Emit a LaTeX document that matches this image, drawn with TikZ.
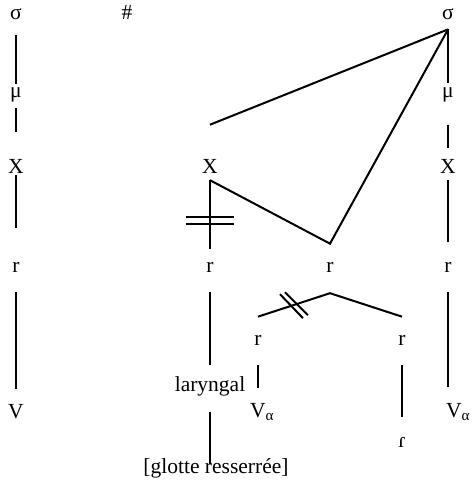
\documentclass[tikz,border=0pt]{standalone}
\usepackage{fontspec}
\setmainfont{Liberation Serif}
\usetikzlibrary{calc}

\begin{document}
\begin{tikzpicture}[
    x=1pt,y=-1pt,
    seg/.style={font=\fontsize{21.5}{26}\selectfont,inner sep=0pt,anchor=base},
    ln/.style={line width=2pt}
]
\useasboundingbox (0,0) rectangle (473,484);
% left column
\node[seg] (sL) at (16,20) {σ};
\node[seg] (muL) at (16,98) {μ};
\node[seg] (xL) at (16,173) {X};
\node[seg] (rL) at (16,272) {r};
\node[seg] (vL) at (16,418) {V};
\node[seg] (hash) at (127,20) {\#};
% middle
\node[seg] (xM) at (210,173) {X};
\node[seg] (rM) at (210,272) {r};
\node[seg] (lar) at (210,391) {laryngal};
\node[seg] (glot) at (216,473) {[glotte resserrée]};
\node[seg] (rC) at (330,272) {r};
\node[seg] (rA) at (258,345) {r};
\node[seg] (rB) at (402,345) {r};
\node[seg,anchor=base west] (vA) at (250,417) {V\textsubscript{α}};
\node[seg] (tap) at (402,447) {ɾ};
% right column
\node[seg] (sR) at (448,20) {σ};
\node[seg] (muR) at (448,98) {μ};
\node[seg] (xR) at (448,173) {X};
\node[seg] (rR) at (448,272) {r};
\node[seg,anchor=base west] (vR) at (446,417) {V\textsubscript{α}};

\coordinate (apex) at ($(sR.south)+(0,9)$);
\coordinate (xMtop) at ($(xM.north)+(0,-34)$);
\coordinate (xMfoot) at ($(xM.south)+(0,7)$);
\coordinate (bend) at ($(rC.north)+(0,-18)$);
\coordinate (peak) at ($(rC.south)+(0,21)$);

\draw[ln,shorten <=15pt,shorten >=4pt] (sL.south) -- (muL.north);
\draw[ln,shorten <=5pt,shorten >=27pt] (muL.south) -- (xL.north);
\draw[ln,shorten <=2pt,shorten >=34pt] (xL.south) -- (rL.north);
\draw[ln,shorten <=20pt,shorten >=15pt] (rL.south) -- (vL.north);

\draw[ln] (xMtop) -- (apex);
\draw[ln] (xMfoot) -- (bend) -- (apex);
\draw[ln,shorten >=13pt] (xMfoot) -- (rM.north);
\draw[ln] ($(xM.south)+(-24,44)$) -- ++(48,0);
\draw[ln] ($(xM.south)+(-24,51)$) -- ++(48,0);
\draw[ln,shorten <=20pt,shorten >=11pt] (rM.south) -- (lar.north);
\draw[ln,shorten <=16pt,shorten >=7pt] (lar.south) -- (lar.south |- glot.mid);

\draw[ln] ($(rA.north)+(0,-18)$) -- (peak) -- ($(rB.north)+(0,-18)$);
\draw[ln] ($(peak)+(-50,1)$) -- ++(23,24);
\draw[ln] ($(peak)+(-45,-1)$) -- ++(23,23);
\draw[ln,shorten <=20pt,shorten >=15pt] (rA.south) -- (rA.south |- vA.north);
\draw[ln,shorten <=20pt,shorten >=20pt] (rB.south) -- (tap.north);

\draw[ln,shorten >=5pt] (apex) -- (muR.north);
\draw[ln,shorten <=22pt,shorten >=11pt] (muR.south) -- (xR.north);
\draw[ln,shorten <=7pt,shorten >=20pt] (xR.south) -- (rR.north);
\draw[ln,shorten <=20pt,shorten >=16pt] (rR.south) -- (rR.south |- vR.north);
\end{tikzpicture}
\end{document}
